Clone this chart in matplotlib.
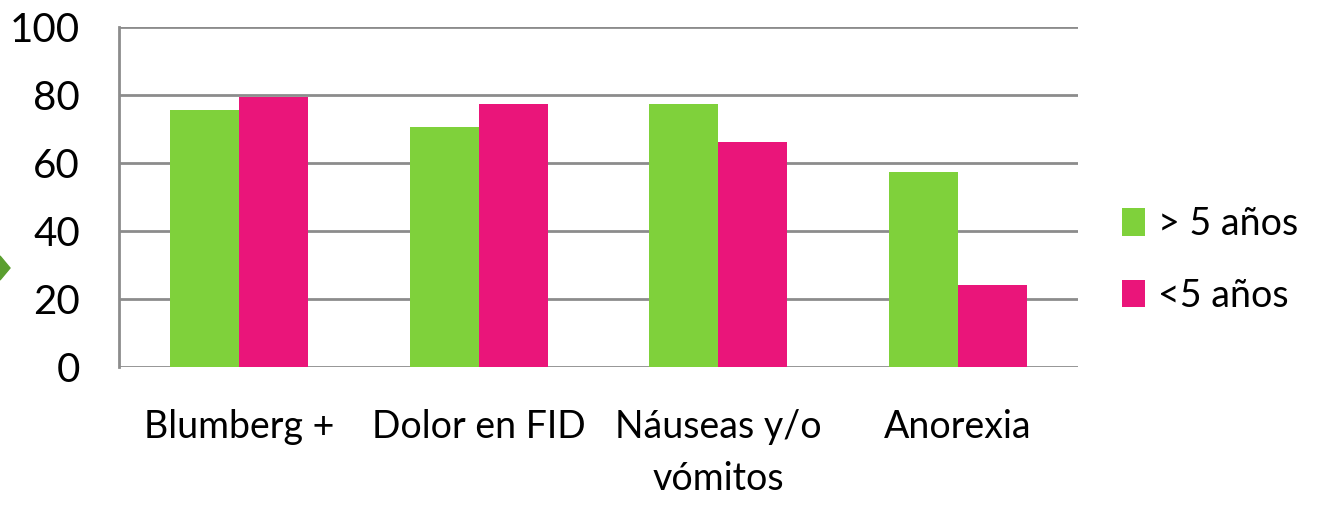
import matplotlib
matplotlib.use("Agg")
import matplotlib.pyplot as plt
import numpy as np
from matplotlib.patches import Polygon

categories = ["Blumberg +", "Dolor en FID", "Náuseas y/o\nvómitos", "Anorexia"]
mayor5 = [75.6, 70.6, 77.4, 57.4]
menor5 = [79.4, 77.4, 66.2, 24.1]
series_names = ["> 5 años", "<5 años"]
yticks = [0, 20, 40, 60, 80, 100]

green = "#7FD13B"
pink = "#EA157A"
grid = "#8C8C8C"

plt.rcParams['font.family'] = ['Lato', 'DejaVu Sans']

fig = plt.figure(figsize=(13.18, 5.07), dpi=100)
ax = fig.add_axes([119/1318, 140/507, 959/1318, 340/507])

x = np.arange(len(categories))
w = 0.2875
ax.bar(x - w/2, mayor5, width=w, color=green, label=series_names[0], zorder=3)
ax.bar(x + w/2, menor5, width=w, color=pink, label=series_names[1], zorder=3)

ax.set_xlim(-0.5, len(categories) - 0.5)
ax.set_ylim(0, 100)
ax.set_yticks(yticks)
ax.set_yticklabels([str(v) for v in yticks], fontsize=29)
ax.tick_params(axis='y', length=0, pad=28)
ax.set_xticks(x)
ax.set_xticklabels(categories, fontsize=27, linespacing=1.55, va='top')
ax.tick_params(axis='x', length=0, pad=30)

for v in yticks:
    ax.axhline(v, color=grid, lw=2, zorder=1)
for s in ['top', 'right', 'bottom']:
    ax.spines[s].set_visible(False)
ax.spines['left'].set_color(grid)
ax.spines['left'].set_linewidth(2)

leg = ax.legend(loc='center left', bbox_to_anchor=(1.046, 0.315), frameon=False,
                fontsize=27, handlelength=0.62, handleheight=0.75,
                handletextpad=0.35, labelspacing=0.95, borderpad=0,
                borderaxespad=0)

# small decorative arrow at the left edge
fig.patches.append(Polygon([[0, (507-256)/507], [0, (507-280)/507],
                            [10/1318, (507-268)/507]],
                           closed=True, transform=fig.transFigure,
                           color="#5A9E2E"))

fig.savefig("out.png", dpi=100)
